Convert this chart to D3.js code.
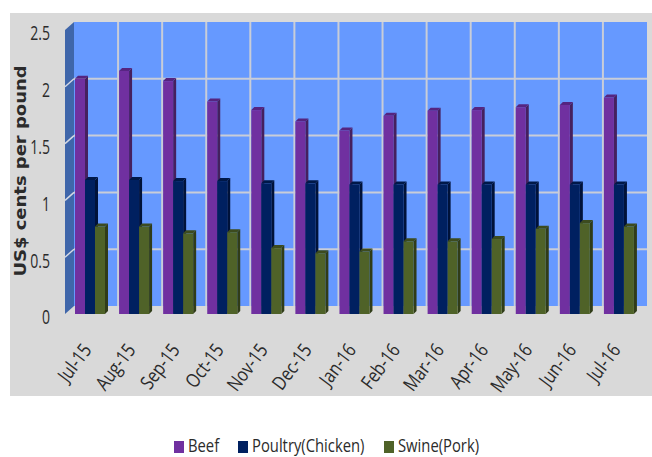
<!DOCTYPE html>
<html>
<head>
<meta charset="utf-8">
<script src="https://cdn.jsdelivr.net/npm/d3@7"></script>
<style>
body { margin: 0; background: #fff; }
text { font-family: "Open Sans", sans-serif; fill: #2b2b2b; }
</style>
</head>
<body>
<div id="chart"></div>
<script>
const months = ["Jul-15","Aug-15","Sep-15","Oct-15","Nov-15","Dec-15","Jan-16","Feb-16","Mar-16","Apr-16","May-16","Jun-16","Jul-16"];
const beef = [2.07,2.14,2.05,1.87,1.795,1.695,1.615,1.745,1.79,1.795,1.82,1.84,1.905];
const poultry = [1.18,1.18,1.17,1.17,1.15,1.15,1.14,1.14,1.14,1.14,1.14,1.14,1.14];
const swine = [0.77,0.77,0.71,0.72,0.58,0.535,0.55,0.64,0.64,0.66,0.75,0.80,0.77];
const yTicks = [0,0.5,1,1.5,2,2.5];
const seriesNames = ["Beef","Poultry(Chicken)","Swine(Pork)"];
const seriesColors = ["#7030a0","#002060","#4f6228"];
const sideColors = ["#45205f","#00123a","#303c18"];
const capColors = ["#552480","#001848","#3c4b1e"];

const width = 652, height = 457;
const depthX = 9, depthY = 8;   // wall offset of the fake 3d
const barDepth = 3;

const svg = d3.select("#chart").append("svg")
  .attr("width", width)
  .attr("height", height)
  .style("display", "block");

svg.append("rect")
  .attr("x", 10).attr("y", 13)
  .attr("width", 642).attr("height", 383)
  .attr("fill", "#d9d9d9");

// front plane scales
const x = d3.scaleBand().domain(months).range([65, 638]);
const y = d3.scaleLinear().domain([0, 2.5]).range([314, 30]);

// back wall
svg.append("rect")
  .attr("x", x.range()[0] + depthX)
  .attr("y", y(2.5) - depthY)
  .attr("width", x.range()[1] - x.range()[0])
  .attr("height", y(0) - y(2.5))
  .attr("fill", "#6699ff");

// left wall
svg.append("polygon")
  .attr("points", [
    [x.range()[0], y(0)],
    [x.range()[0], y(2.5)],
    [x.range()[0] + depthX, y(2.5) - depthY],
    [x.range()[0] + depthX, y(0) - depthY]
  ].join(" "))
  .attr("fill", "#3f66aa");

// gridlines
svg.selectAll(".hgrid")
  .data(yTicks.slice(1, 5))
  .join("line")
    .attr("x1", x.range()[0] + depthX)
    .attr("x2", x.range()[1] + depthX)
    .attr("y1", d => y(d) - depthY)
    .attr("y2", d => y(d) - depthY)
    .attr("stroke", "#c9cdd8")
    .attr("stroke-width", 2);
svg.selectAll(".sidegrid")
  .data(yTicks.slice(1, 5))
  .join("line")
    .attr("x1", x.range()[0])
    .attr("x2", x.range()[0] + depthX)
    .attr("y1", d => y(d))
    .attr("y2", d => y(d) - depthY)
    .attr("stroke", "#d5d9e4")
    .attr("stroke-width", 1.5);
svg.selectAll(".vgrid")
  .data(months.slice(1))
  .join("line")
    .attr("x1", d => x(d) + depthX)
    .attr("x2", d => x(d) + depthX)
    .attr("y1", y(2.5) - depthY)
    .attr("y2", y(0) - depthY)
    .attr("stroke", "#c9cdd8")
    .attr("stroke-width", 2);

// bars
const barW = 10;
const barOffset = 10;
[beef, poultry, swine].forEach(function(values, s) {
  const g = svg.append("g");
  months.forEach(function(m, i) {
    const x0 = x(m) + barOffset + s * barW;
    const x1 = x0 + barW;
    const top = y(values[i]);
    g.append("polygon")
      .attr("points", [[x1, top], [x1 + barDepth, top - barDepth], [x1 + barDepth, y(0) - barDepth], [x1, y(0)]].join(" "))
      .attr("fill", sideColors[s]);
    g.append("polygon")
      .attr("points", [[x0, top], [x0 + barDepth, top - barDepth], [x1 + barDepth, top - barDepth], [x1, top]].join(" "))
      .attr("fill", capColors[s]);
    g.append("rect")
      .attr("x", x0)
      .attr("y", top)
      .attr("width", barW)
      .attr("height", y(0) - top)
      .attr("fill", seriesColors[s]);
  });
});

// y axis, labels squeezed like the original narrow font
const yAxis = svg.append("g")
  .attr("transform", "translate(50,3)")
  .call(d3.axisLeft(y).tickValues(yTicks).tickFormat(d3.format("")).tickSize(0).tickPadding(0));
yAxis.select(".domain").remove();
yAxis.selectAll("text")
  .attr("x", 0)
  .attr("transform", "scale(0.72,1)")
  .style("font-size", "19.5px");
yAxis.selectAll(".tick text").attr("dy", "0.35em");

// x axis
const xAxis = svg.append("g")
  .attr("transform", "translate(0,331)")
  .call(d3.axisBottom(x).tickSize(0).tickPadding(0));
xAxis.select(".domain").remove();
xAxis.selectAll("text")
  .attr("transform", "translate(0,15)rotate(-53)scale(0.82,1)")
  .style("text-anchor", "end")
  .attr("y", 0)
  .attr("dy", "0.35em")
  .style("font-size", "19.5px");

// y title
svg.append("text")
  .text("US$ cents per pound")
  .attr("transform", "translate(26,171)rotate(-90)scale(1.16,1)")
  .attr("text-anchor", "middle")
  .style("font-family", "'DejaVu Sans', sans-serif")
  .style("font-size", "15.5px")
  .style("font-weight", "bold");

// legend
const legendX = [174, 238, 384];
const legend = svg.selectAll(".legend")
  .data(seriesNames)
  .join("g")
    .attr("transform", (d, i) => `translate(${legendX[i]},441)`);
legend.append("rect")
  .attr("width", 10).attr("height", 12)
  .attr("fill", (d, i) => seriesColors[i]);
legend.append("text")
  .text(d => d)
  .attr("transform", "translate(14,10.5)scale(0.8,1)")
  .style("font-size", "18.5px");
</script>
</body>
</html>
